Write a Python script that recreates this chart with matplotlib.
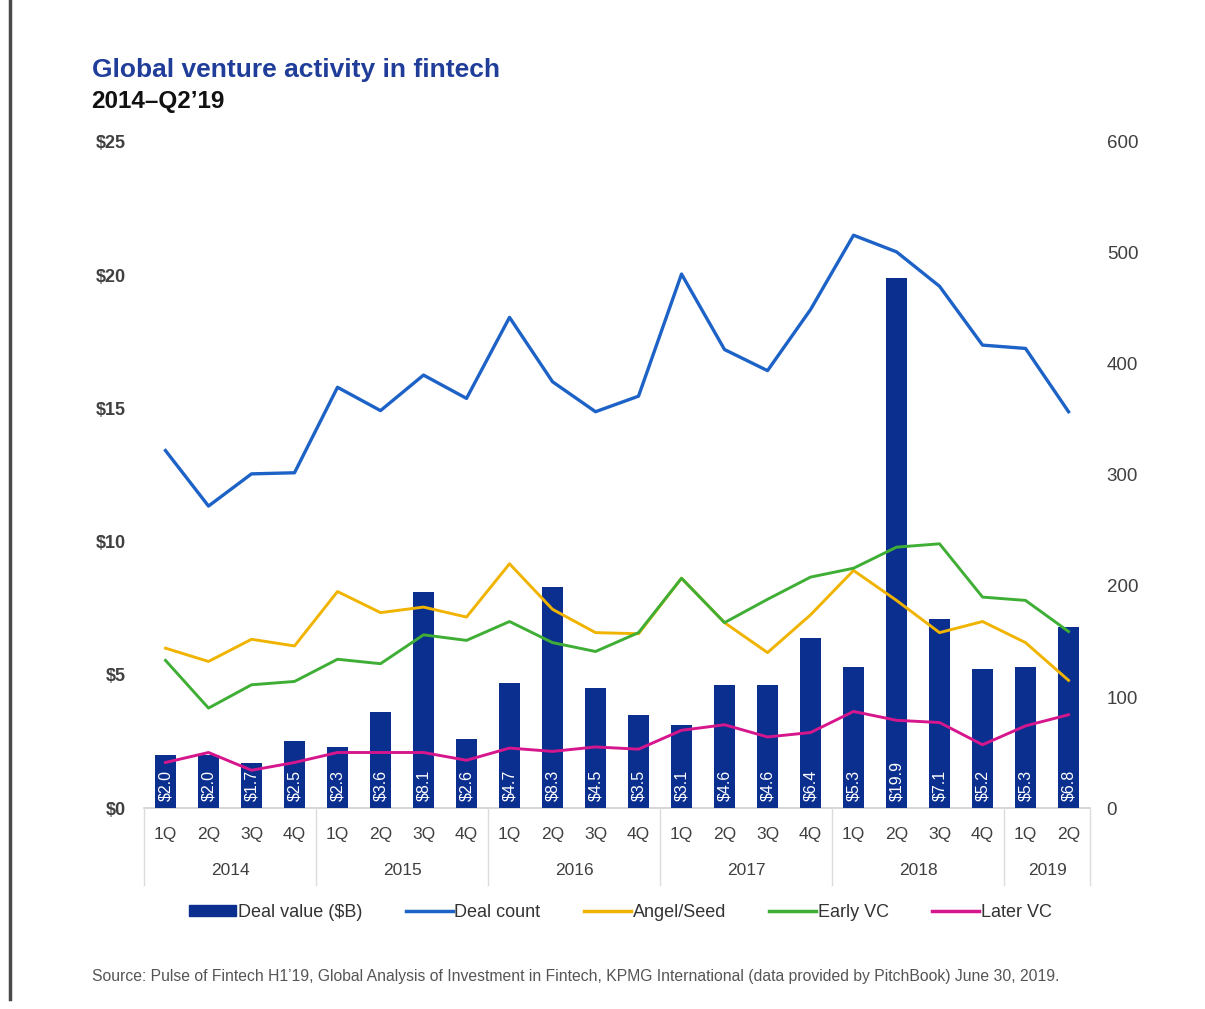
import numpy as np
import matplotlib
matplotlib.use("Agg")
import matplotlib.pyplot as plt
from matplotlib.lines import Line2D
from matplotlib.patches import Patch
import matplotlib.transforms as mtransforms

plt.rcParams['font.family'] = ['Liberation Sans', 'DejaVu Sans']

# Quarterly data, 1Q 2014 .. 2Q 2019
quarters = ['1Q', '2Q', '3Q', '4Q'] * 5 + ['1Q', '2Q']
years = ['2014', '2015', '2016', '2017', '2018', '2019']
year_sizes = [4, 4, 4, 4, 4, 2]

deal_value = [2.0, 2.0, 1.7, 2.5, 2.3, 3.6, 8.1, 2.6, 4.7, 8.3, 4.5, 3.5,
              3.1, 4.6, 4.6, 6.4, 5.3, 19.9, 7.1, 5.2, 5.3, 6.8]
deal_count = [322, 272, 301, 302, 379, 358, 390, 369, 442, 384, 357, 371,
              481, 413, 394, 449, 516, 501, 470, 417, 414, 357]
angel_seed = [144, 132, 152, 146, 195, 176, 181, 172, 220, 179, 158, 157,
              207, 167, 140, 174, 214, 187, 158, 168, 149, 115]
early_vc = [133, 90, 111, 114, 134, 130, 156, 151, 168, 149, 141, 158,
            207, 167, 188, 208, 216, 235, 238, 190, 187, 159]
later_vc = [41, 50, 34, 41, 50, 50, 50, 43, 54, 51, 55, 53,
            70, 75, 64, 68, 87, 79, 77, 57, 74, 84]

c_bar = '#0b2f8f'
c_count = '#1d62c6'
c_angel = '#f0b400'
c_early = '#3fae35'
c_later = '#d6168c'
c_text = '#404040'

fig = plt.figure(figsize=(12.05, 10.09), dpi=100)
ax = fig.add_axes([0.1195, 0.1992, 0.7851, 0.6601])
ax2 = ax.twinx()

x = np.arange(len(deal_value))
bars = ax.bar(x, deal_value, width=0.5, color=c_bar, zorder=2)

# value labels written up the inside of each bar, clipped to it
for rect, v in zip(bars, deal_value):
    t = ax.text(rect.get_x() + rect.get_width() / 2, 0.25, f'${v:.1f}',
                rotation=90, ha='center', va='bottom', color='white',
                fontsize=11.5, zorder=3)
    t.set_clip_path(rect)

ax2.plot(x, deal_count, color=c_count, lw=2.4, zorder=3)
ax2.plot(x, angel_seed, color=c_angel, lw=2.1, zorder=3)
ax2.plot(x, early_vc, color=c_early, lw=2.1, zorder=3)
ax2.plot(x, later_vc, color=c_later, lw=2.1, zorder=3)

ax.set_xlim(-0.5, len(x) - 0.5)
ax.set_ylim(0, 25)
ax2.set_ylim(0, 600)
ax.set_yticks(range(0, 26, 5))
ax.set_yticklabels([f'${v}' for v in range(0, 26, 5)], fontsize=13,
                   color=c_text, fontweight='bold')
ax2.set_yticks(range(0, 601, 100))
ax2.set_yticklabels([str(v) for v in range(0, 601, 100)], fontsize=13.5,
                    color=c_text)
ax.tick_params(axis='y', length=0, pad=13)
ax2.tick_params(axis='y', length=0, pad=12)

ax.set_xticks(x)
ax.set_xticklabels(quarters, fontsize=12.5, color=c_text)
ax.tick_params(axis='x', length=0, pad=14)

for a in (ax, ax2):
    for s in a.spines.values():
        s.set_visible(False)

# category table under the x axis
trans = mtransforms.blended_transform_factory(ax.transData, ax.transAxes)
ax.plot([-0.5, len(x) - 0.5], [0, 0], transform=trans, color='#d0d0d0',
        lw=1.2, clip_on=False, zorder=1)
edges = np.concatenate([[-0.5], np.cumsum(year_sizes) - 0.5])
for e in edges:
    ax.plot([e, e], [0, -0.116], transform=trans, color='#dcdcdc', lw=1.0,
            clip_on=False)
for i, yr in enumerate(years):
    ax.text((edges[i] + edges[i + 1]) / 2, -0.094, yr, transform=trans,
            ha='center', va='center', fontsize=12.5, color=c_text)

fig.text(0.076, 0.931, 'Global venture activity in fintech', fontsize=19,
         fontweight='bold', color='#1f3d99', va='center')
fig.text(0.076, 0.899, '2014\u2013Q2\u201919', fontsize=17.5,
         fontweight='bold', color='#111111', va='center')

handles = [Patch(color=c_bar),
           Line2D([], [], color=c_count, lw=2.5),
           Line2D([], [], color=c_angel, lw=2.5),
           Line2D([], [], color=c_early, lw=2.5),
           Line2D([], [], color=c_later, lw=2.5)]
labels = ['Deal value ($B)', 'Deal count', 'Angel/Seed', 'Early VC', 'Later VC']
fig.legend(handles, labels, loc='center', bbox_to_anchor=(0.515, 0.096),
           ncol=5, frameon=False, fontsize=13, handlelength=2.6,
           handletextpad=0.1, columnspacing=2.4, handleheight=0.6,
           labelcolor='#333333')

fig.text(0.076, 0.032, 'Source: Pulse of Fintech H1\u201919, Global Analysis of '
         'Investment in Fintech, KPMG International (data provided by PitchBook) '
         'June 30, 2019.', fontsize=11.3, color='#555555', va='center')

# dark rule down the left edge of the page
fig.add_artist(Line2D([0.008, 0.008], [0.01, 1.0], color='#4a4a4a', lw=2.5))

fig.savefig('out.png', dpi=100, facecolor='white')
